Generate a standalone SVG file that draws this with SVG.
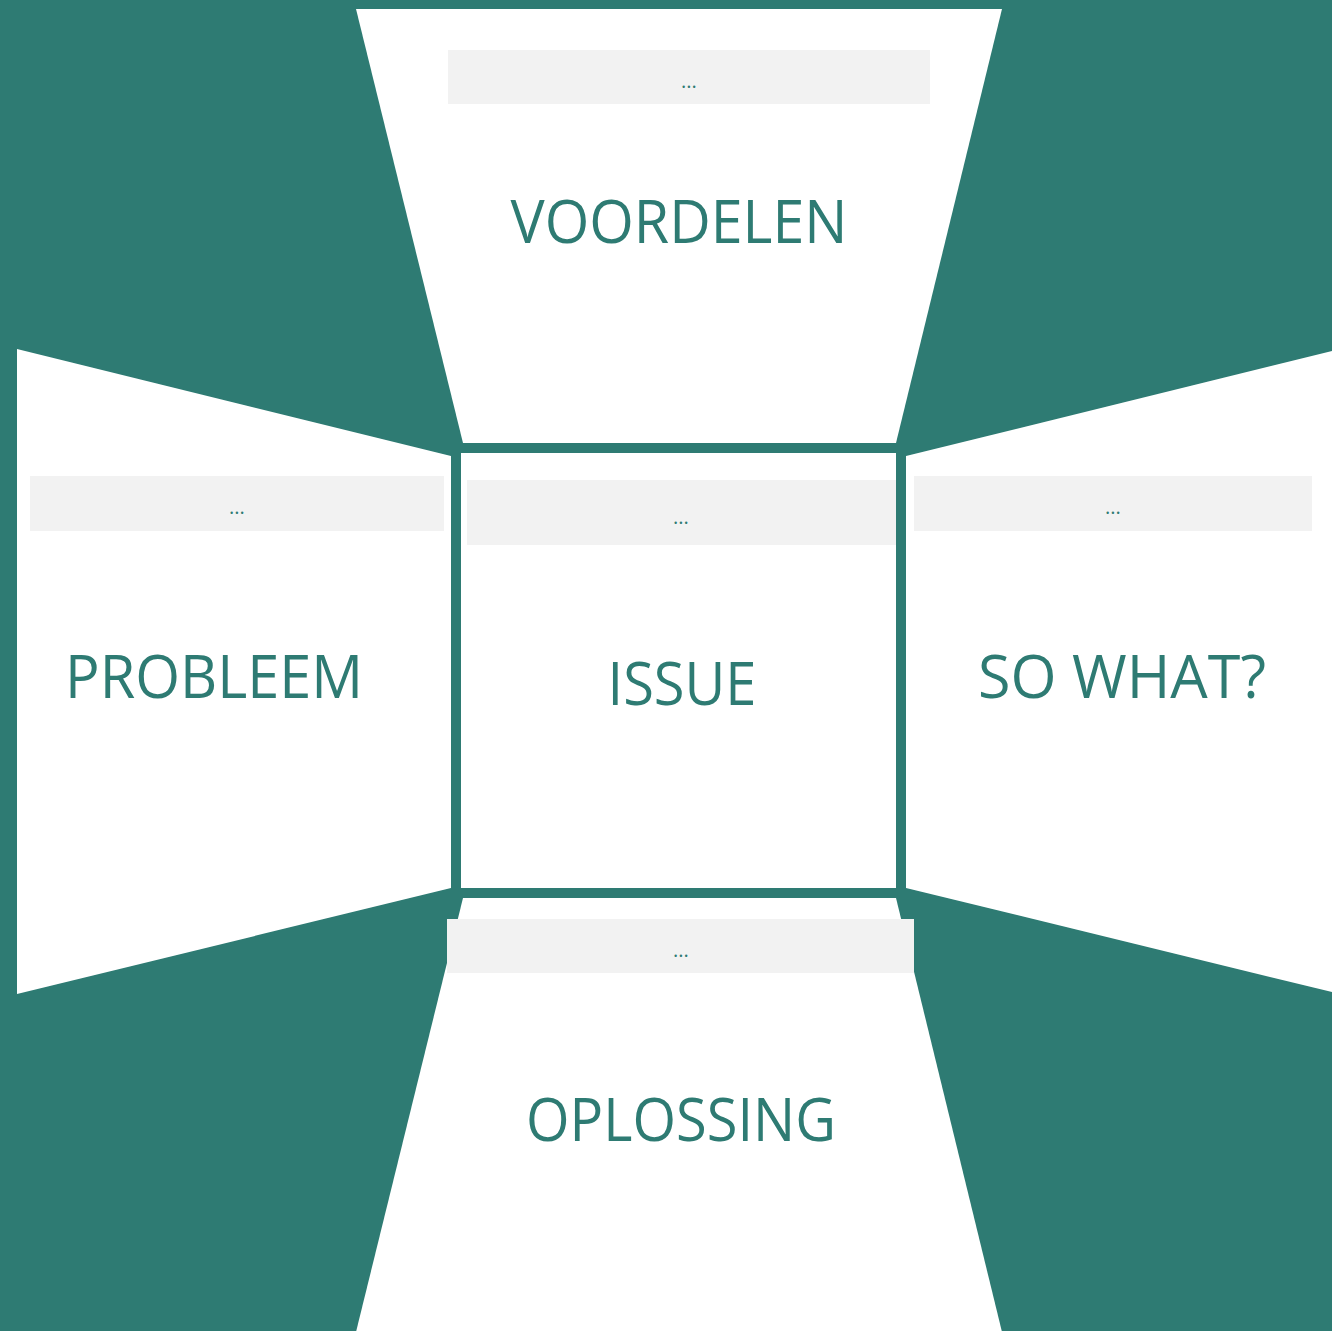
<svg xmlns="http://www.w3.org/2000/svg" width="1332" height="1331" viewBox="0 0 1332 1331">
<style>
.bg{fill:#2E7B73}
.panel{fill:#FFFFFF}
.bar{fill:#F2F2F2}
.big{font-family:"Open Sans","Noto Sans",sans-serif;font-size:61px;fill:#2E7B73;text-anchor:middle}
.dots{font-family:"Open Sans","Noto Sans",sans-serif;font-size:20px;fill:#2E7B73;text-anchor:middle}
.frame{fill:#FFFFFF;stroke:#2E7B73;stroke-width:10}
</style>
<rect class="bg" x="0" y="0" width="1332" height="1331"/>
<g id="voordelen">
<polygon class="panel" points="356,9 1002,9 896,443 463,443"/>
<rect class="bar" x="448" y="50" width="482" height="54"/>
<text class="dots" x="689" y="88">...</text>
<text class="big" x="679" y="243" textLength="337" lengthAdjust="spacingAndGlyphs">VOORDELEN</text>
</g>
<g id="probleem">
<polygon class="panel" points="17,349 451,456 451,888 17,994"/>
<rect class="bar" x="30" y="476" width="414" height="55"/>
<text class="dots" x="237" y="514">...</text>
<text class="big" x="214" y="698" textLength="298" lengthAdjust="spacingAndGlyphs">PROBLEEM</text>
</g>
<g id="sowhat">
<polygon class="panel" points="906,456 1340,349 1340,994 906,888"/>
<rect class="bar" x="914" y="476" width="398" height="55"/>
<text class="dots" x="1113" y="514">...</text>
<text class="big" x="1122" y="698" textLength="288" lengthAdjust="spacingAndGlyphs">SO WHAT?</text>
</g>
<g id="oplossing">
<polygon class="panel" points="463,898 896,898 1002,1332 356,1332"/>
<rect class="bar" x="447" y="919" width="467" height="54"/>
<text class="dots" x="681" y="957">...</text>
<text class="big" x="681" y="1141" textLength="310" lengthAdjust="spacingAndGlyphs">OPLOSSING</text>
</g>
<g id="issue">
<rect class="frame" x="456" y="448" width="445" height="445"/>
<rect class="bar" x="467" y="480" width="429" height="65"/>
<text class="dots" x="681" y="524">...</text>
<text class="big" x="682" y="705" textLength="149" lengthAdjust="spacingAndGlyphs">ISSUE</text>
</g>
<g id="connectors"></g>
</svg>
